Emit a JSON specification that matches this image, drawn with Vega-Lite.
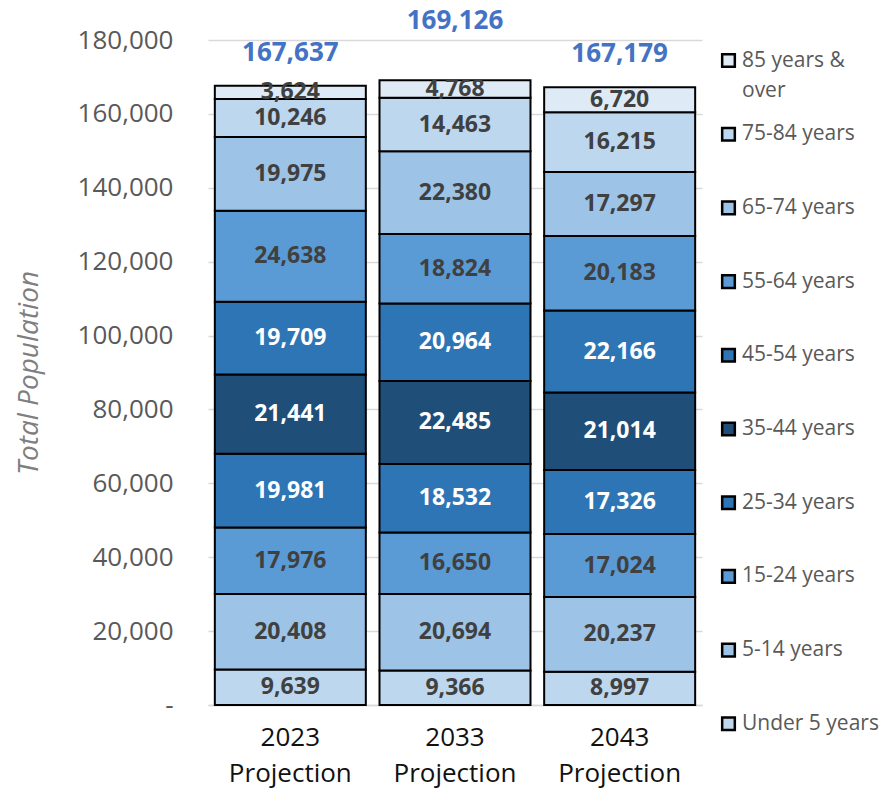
{
  "$schema": "https://vega.github.io/schema/vega-lite/v6.json",
  "width": 494,
  "height": 665,
  "autosize": {"type": "none"},
  "padding": {"left": 208, "top": 40, "right": 183, "bottom": 85},
  "background": "white",
  "config": {
    "view": {"stroke": null},
    "font": "Open Sans",
    "style": {"guide-label": {"lineHeight": 30}}
  },
  "data": {
    "values": [
      {"year": "2023 Projection", "group": "Under 5 years", "idx": 0, "value": 9639},
      {"year": "2023 Projection", "group": "5-14 years", "idx": 1, "value": 20408},
      {"year": "2023 Projection", "group": "15-24 years", "idx": 2, "value": 17976},
      {"year": "2023 Projection", "group": "25-34 years", "idx": 3, "value": 19981},
      {"year": "2023 Projection", "group": "35-44 years", "idx": 4, "value": 21441},
      {"year": "2023 Projection", "group": "45-54 years", "idx": 5, "value": 19709},
      {"year": "2023 Projection", "group": "55-64 years", "idx": 6, "value": 24638},
      {"year": "2023 Projection", "group": "65-74 years", "idx": 7, "value": 19975},
      {"year": "2023 Projection", "group": "75-84 years", "idx": 8, "value": 10246},
      {"year": "2023 Projection", "group": "85 years & over", "idx": 9, "value": 3624},
      {"year": "2033 Projection", "group": "Under 5 years", "idx": 0, "value": 9366},
      {"year": "2033 Projection", "group": "5-14 years", "idx": 1, "value": 20694},
      {"year": "2033 Projection", "group": "15-24 years", "idx": 2, "value": 16650},
      {"year": "2033 Projection", "group": "25-34 years", "idx": 3, "value": 18532},
      {"year": "2033 Projection", "group": "35-44 years", "idx": 4, "value": 22485},
      {"year": "2033 Projection", "group": "45-54 years", "idx": 5, "value": 20964},
      {"year": "2033 Projection", "group": "55-64 years", "idx": 6, "value": 18824},
      {"year": "2033 Projection", "group": "65-74 years", "idx": 7, "value": 22380},
      {"year": "2033 Projection", "group": "75-84 years", "idx": 8, "value": 14463},
      {"year": "2033 Projection", "group": "85 years & over", "idx": 9, "value": 4768},
      {"year": "2043 Projection", "group": "Under 5 years", "idx": 0, "value": 8997},
      {"year": "2043 Projection", "group": "5-14 years", "idx": 1, "value": 20237},
      {"year": "2043 Projection", "group": "15-24 years", "idx": 2, "value": 17024},
      {"year": "2043 Projection", "group": "25-34 years", "idx": 3, "value": 17326},
      {"year": "2043 Projection", "group": "35-44 years", "idx": 4, "value": 21014},
      {"year": "2043 Projection", "group": "45-54 years", "idx": 5, "value": 22166},
      {"year": "2043 Projection", "group": "55-64 years", "idx": 6, "value": 20183},
      {"year": "2043 Projection", "group": "65-74 years", "idx": 7, "value": 17297},
      {"year": "2043 Projection", "group": "75-84 years", "idx": 8, "value": 16215},
      {"year": "2043 Projection", "group": "85 years & over", "idx": 9, "value": 6720}
    ]
  },
  "encoding": {
    "x": {
      "field": "year",
      "type": "nominal",
      "scale": {"paddingInner": 0, "paddingOuter": 0},
      "axis": {
        "title": null,
        "labelAngle": 0,
        "labelExpr": "split(datum.label, ' ')",
        "labelFont": "Open Sans",
        "labelFontSize": 26,
        "labelColor": "#111111",
        "labelLineHeight": 36,
        "labelPadding": 19,
        "ticks": false,
        "domainColor": "#D9D9D9",
        "domainWidth": 1.5,
        "grid": false
      }
    }
  },
  "layer": [
    {
      "mark": {"type": "bar", "width": 151, "stroke": "black", "strokeWidth": 2},
      "encoding": {
        "y": {
          "field": "value",
          "type": "quantitative",
          "stack": "zero",
          "scale": {"domain": [0, 180000], "nice": false},
          "axis": {
            "title": "Total Population",
            "titleFont": "Open Sans",
            "titleFontStyle": "italic",
            "titleFontWeight": "normal",
            "titleFontSize": 28,
            "titleColor": "#7F7F7F",
            "titlePadding": 34,
            "values": [0, 20000, 40000, 60000, 80000, 100000, 120000, 140000, 160000, 180000],
            "labelExpr": "datum.value == 0 ? '-' : format(datum.value, ',')",
            "labelFont": "Open Sans",
            "labelFontSize": 26,
            "labelColor": "#595959",
            "labelPadding": 35,
            "ticks": false,
            "domain": false,
            "grid": true,
            "gridColor": "#D9D9D9",
            "gridWidth": 1.5
          }
        },
        "order": {"field": "idx", "type": "quantitative"},
        "fill": {
          "field": "group",
          "type": "nominal",
          "scale": {
            "domain": ["85 years & over", "75-84 years", "65-74 years", "55-64 years", "45-54 years", "35-44 years", "25-34 years", "15-24 years", "5-14 years", "Under 5 years"],
            "range": ["#DEEBF7", "#BDD7EE", "#9DC3E6", "#5B9BD5", "#2E75B6", "#1F4E79", "#2E75B6", "#5B9BD5", "#9DC3E6", "#BDD7EE"]
          },
          "legend": {
            "title": null,
            "orient": "none",
            "legendX": 510,
            "legendY": 10,
            "padding": 0,
            "symbolType": "square",
            "symbolSize": 160,
            "symbolStrokeColor": "black",
            "symbolStrokeWidth": 2.5,
            "symbolOpacity": 1,
            "labelFont": "Open Sans",
            "labelFontSize": 21,
            "labelColor": "#595959",
            "labelOffset": 3,
            "labelLimit": 200,
            "labelExpr": "datum.label == '85 years & over' ? ['85 years &', 'over'] : datum.label",
            "gridAlign": "all",
            "rowPadding": 21.7
          }
        }
      }
    },
    {
      "transform": [
        {"stack": "value", "groupby": ["year"], "sort": [{"field": "idx"}], "as": ["v0", "v1"]},
        {"calculate": "(datum.v0 + datum.v1) / 2", "as": "mid"}
      ],
      "mark": {"type": "text", "font": "Open Sans", "fontWeight": "bold", "fontSize": 23, "baseline": "middle"},
      "encoding": {
        "y": {"field": "mid", "type": "quantitative"},
        "text": {"field": "value", "type": "quantitative", "format": ","},
        "color": {
          "condition": {"test": "datum.idx >= 3 && datum.idx <= 5", "value": "white"},
          "value": "#404040"
        }
      }
    },
    {
      "transform": [{"filter": "datum.year != '2033 Projection'"}],
      "mark": {"type": "text", "font": "Open Sans", "fontWeight": "bold", "fontSize": 26, "color": "#4472C4", "baseline": "middle", "dy": -33},
      "encoding": {
        "y": {"aggregate": "sum", "field": "value", "type": "quantitative"},
        "text": {"aggregate": "sum", "field": "value", "type": "quantitative", "format": ","}
      }
    },
    {
      "transform": [{"filter": "datum.year == '2033 Projection'"}],
      "mark": {"type": "text", "font": "Open Sans", "fontWeight": "bold", "fontSize": 26, "color": "#4472C4", "baseline": "middle", "dy": -59},
      "encoding": {
        "y": {"aggregate": "sum", "field": "value", "type": "quantitative"},
        "text": {"aggregate": "sum", "field": "value", "type": "quantitative", "format": ","}
      }
    }
  ]
}
